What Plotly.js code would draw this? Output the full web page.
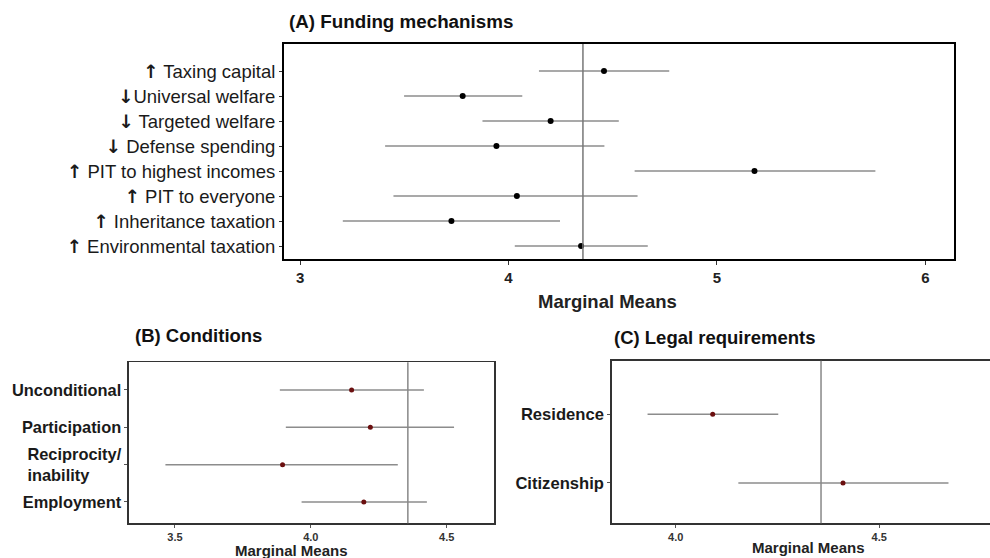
<!DOCTYPE html>
<html>
<head>
<meta charset="utf-8">
<script src="https://cdn.plot.ly/plotly-3.0.1.min.js"></script>
<style>html,body{margin:0;padding:0;background:#fff;}#chart{width:990px;height:558px;}</style>
</head>
<body>
<div id="chart"></div>
<script>
// ---- Data ----
const grandMean = 4.357;

const UP = '<span style="font-family:DejaVu Sans;font-weight:bold;">\u2191</span>';
const DN = '<span style="font-family:DejaVu Sans;font-weight:bold;">\u2193</span>';
const fundingLabels = [UP + " Taxing capital", DN + "Universal welfare", DN + " Targeted welfare", DN + " Defense spending",
  UP + " PIT to highest incomes", UP + " PIT to everyone", UP + " Inheritance taxation", UP + " Environmental taxation"];
const fundingMean = [4.458, 3.780, 4.202, 3.942, 5.180, 4.040, 3.726, 4.348];
const fundingLow  = [4.146, 3.499, 3.875, 3.408, 4.605, 3.448, 3.205, 4.030];
const fundingHigh = [4.771, 4.066, 4.529, 4.460, 5.760, 4.619, 4.247, 4.668];

const condLabels = ["Unconditional", "Participation", "Reciprocity/<br>inability\u00A0\u00A0\u00A0\u00A0\u00A0\u00A0\u00A0", "Employment"];
const condMean = [4.150, 4.219, 3.896, 4.195];
const condLow  = [3.886, 3.908, 3.465, 3.966];
const condHigh = [4.416, 4.527, 4.320, 4.427];

const legalLabels = ["Residence", "Citizenship"];
const legalMean = [4.091, 4.411];
const legalLow  = [3.931, 4.154];
const legalHigh = [4.252, 4.670];

const ticksA = [3, 4, 5, 6];
const ticksB = [3.5, 4.0, 4.5];
const ticksC = [4.0, 4.5];

// ---- Build ----
const FONT = "Liberation Sans, DejaVu Sans, Arial, sans-serif";
function plus(m, h) { return h.map((v, i) => v - m[i]); }
function minus(m, l) { return l.map((v, i) => m[i] - v); }

function trace(labels, mean, low, high, xa, ya, color, size) {
  return {
    type: "scatter", mode: "markers", x: mean, y: labels, xaxis: xa, yaxis: ya,
    marker: {color: color, size: size},
    error_x: {type: "data", symmetric: false, array: plus(mean, high), arrayminus: minus(mean, low),
      color: "#8c8c8c", thickness: 1.5, width: 0},
    showlegend: false, hoverinfo: "x+y"
  };
}

const data = [
  trace(fundingLabels, fundingMean, fundingLow, fundingHigh, "x", "y", "#000000", 6),
  trace(condLabels, condMean, condLow, condHigh, "x2", "y2", "#6b0f0f", 5),
  trace(legalLabels, legalMean, legalLow, legalHigh, "x3", "y3", "#6b0f0f", 5)
];

const layout = {
  width: 990, height: 558,
  margin: {l: 0, r: 0, t: 0, b: 0},
  paper_bgcolor: "#ffffff", plot_bgcolor: "#ffffff",
  font: {family: FONT, color: "#1a1a1a"},
  xaxis: {domain: [0.2869, 0.9636], anchor: "y", range: [2.923, 6.137], tickvals: ticksA,
    ticktext: ticksA.map(String), showgrid: false, zeroline: false, showline: true, mirror: true,
    linecolor: "#000", linewidth: 2, ticks: "outside", ticklen: 4, tickcolor: "#333",
    tickfont: {size: 15, family: FONT, weight: "bold", color: "#222"}},
  yaxis: {domain: [0.5358, 0.9211], anchor: "x", type: "category", range: [7.52, -1.08],
    showgrid: false, zeroline: false, showline: true, mirror: true, linecolor: "#000", linewidth: 2,
    ticks: "outside", ticklen: 3, tickcolor: "#333", tickfont: {size: 18.5, family: FONT, color: "#1a1a1a"}},
  xaxis2: {domain: [0.1303, 0.499], anchor: "y2", range: [3.331, 4.674], tickvals: ticksB,
    ticktext: ticksB.map(v => v.toFixed(1)), showgrid: false, zeroline: false, showline: true, mirror: true,
    linecolor: "#333", linewidth: 1.5, ticks: "outside", ticklen: 3, tickcolor: "#555",
    tickfont: {size: 11, family: FONT, weight: "bold", color: "#333"}},
  yaxis2: {domain: [0.0622, 0.3507], anchor: "x2", type: "category", range: [3.57, -0.74],
    showgrid: false, zeroline: false, showline: true, mirror: true, linecolor: "#333", linewidth: 1.5,
    ticks: "outside", ticklen: 3, tickcolor: "#555",
    tickfont: {size: 16.4, family: FONT, weight: "bold", color: "#1a1a1a"}},
  xaxis3: {domain: [0.6179, 1], anchor: "y3", range: [3.843, 4.772], tickvals: ticksC,
    ticktext: ticksC.map(v => v.toFixed(1)), showgrid: false, zeroline: false, showline: true, mirror: true,
    linecolor: "#333", linewidth: 1.5, ticks: "outside", ticklen: 3, tickcolor: "#555",
    tickfont: {size: 11, family: FONT, weight: "bold", color: "#333"}},
  yaxis3: {domain: [0.0622, 0.3536], anchor: "x3", type: "category", range: [1.587, -0.78],
    showgrid: false, zeroline: false, showline: true, mirror: false, linecolor: "#333", linewidth: 1.5,
    ticks: "outside", ticklen: 3, tickcolor: "#555",
    tickfont: {size: 16.6, family: FONT, weight: "bold", color: "#1a1a1a"}},
  shapes: [
    {type: "line", xref: "x", yref: "y domain", x0: grandMean, x1: grandMean, y0: 0, y1: 1, line: {color: "#777", width: 1.5}},
    {type: "line", xref: "x2", yref: "y2 domain", x0: grandMean, x1: grandMean, y0: 0, y1: 1, line: {color: "#888", width: 1.5}},
    {type: "line", xref: "x3", yref: "y3 domain", x0: grandMean, x1: grandMean, y0: 0, y1: 1, line: {color: "#888", width: 1.5}}
  ],
  annotations: [
    {text: "(A) Funding mechanisms", xref: "paper", yref: "paper", x: 0.2899, y: 0.9606, xanchor: "left", yanchor: "middle",
      showarrow: false, font: {size: 18.8, family: FONT, weight: "bold", color: "#111"}},
    {text: "(B) Conditions", xref: "paper", yref: "paper", x: 0.1343, y: 0.3996, xanchor: "left", yanchor: "middle",
      showarrow: false, font: {size: 18.5, family: FONT, weight: "bold", color: "#111"}},
    {text: "(C) Legal requirements", xref: "paper", yref: "paper", x: 0.6179, y: 0.396, xanchor: "left", yanchor: "middle",
      showarrow: false, font: {size: 18.5, family: FONT, weight: "bold", color: "#111"}},
    {text: "Marginal Means", xref: "paper", yref: "paper", x: 0.6141, y: 0.4588, xanchor: "center", yanchor: "middle",
      showarrow: false, font: {size: 18.5, family: FONT, weight: "bold", color: "#222"}},
    {text: "Marginal Means", xref: "paper", yref: "paper", x: 0.2944, y: 0.0131, xanchor: "center", yanchor: "middle",
      showarrow: false, font: {size: 15, family: FONT, weight: "bold", color: "#222"}},
    {text: "Marginal Means", xref: "paper", yref: "paper", x: 0.8162, y: 0.0197, xanchor: "center", yanchor: "middle",
      showarrow: false, font: {size: 15, family: FONT, weight: "bold", color: "#222"}}
  ]
};

Plotly.newPlot("chart", data, layout, {displayModeBar: false, staticPlot: true});
</script>
</body>
</html>
